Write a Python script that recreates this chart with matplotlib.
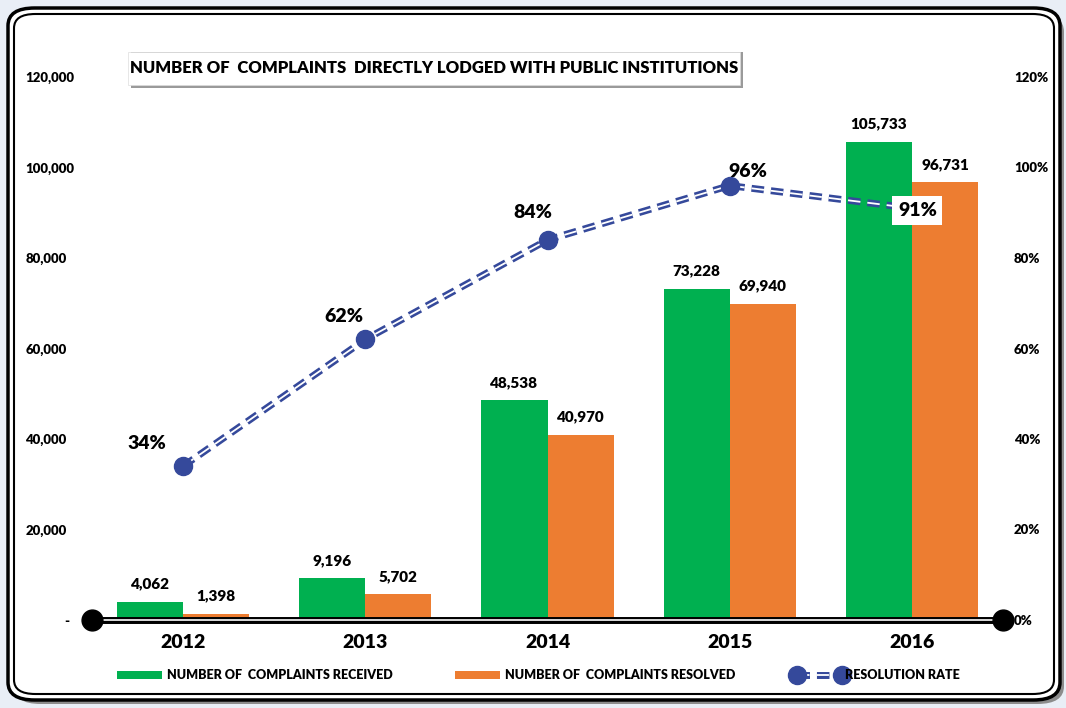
import numpy as np
import matplotlib
matplotlib.use("Agg")
import matplotlib.pyplot as plt
from matplotlib.patches import FancyBboxPatch, Rectangle
from matplotlib.lines import Line2D

plt.rcParams['font.family'] = ['Lato', 'DejaVu Sans']
plt.rcParams['lines.scale_dashes'] = False

years = ["2012", "2013", "2014", "2015", "2016"]
received = [4062, 9196, 48538, 73228, 105733]
resolved = [1398, 5702, 40970, 69940, 96731]
rate = [34, 62, 84, 96, 91]
left_ticks = [0, 20000, 40000, 60000, 80000, 100000, 120000]
left_labels = ["-", "20,000", "40,000", "60,000", "80,000", "100,000", "120,000"]
right_ticks = [0, 20, 40, 60, 80, 100, 120]

green = "#00B050"
orange = "#ED7D31"
blue = "#35499B"
WT = "heavy"

W, H = 1066, 708
fig = plt.figure(figsize=(W / 100, H / 100), dpi=100)
fig.patch.set_facecolor("#E9EEF6")


def fx(px):
    return px / W


def fy(py):
    return 1 - py / H


# rounded panel with double border + shadow
shadow = FancyBboxPatch((fx(14), fy(704)), fx(1050), fy(14) - fy(704),
                        boxstyle="round,pad=0,rounding_size=0.025", transform=fig.transFigure,
                        facecolor="#8C8C8C", edgecolor="none", zorder=0)
fig.patches.append(shadow)
outer = FancyBboxPatch((fx(8), fy(700)), fx(1052), fy(8) - fy(700),
                       boxstyle="round,pad=0,rounding_size=0.025", transform=fig.transFigure,
                       facecolor="white", edgecolor="black", linewidth=2.5, zorder=1)
fig.patches.append(outer)
inner = FancyBboxPatch((fx(14), fy(694)), fx(1040), fy(14) - fy(694),
                       boxstyle="round,pad=0,rounding_size=0.02", transform=fig.transFigure,
                       facecolor="white", edgecolor="black", linewidth=1.5, zorder=2)
fig.patches.append(inner)

ax = fig.add_axes([fx(92), 1 - 620 / H, fx(1003) - fx(92), (620 - 77) / H])
ax.set_zorder(3)
ax.patch.set_visible(False)
x = np.arange(len(years))
bw = 0.363
ax.bar(x - bw / 2, received, bw, color=green, zorder=2)
ax.bar(x + bw / 2, resolved, bw, color=orange, zorder=2)
for i in range(len(years)):
    ax.text(x[i] - bw / 2, received[i] + 2500, f"{received[i]:,}", ha="center", va="bottom",
            fontsize=11, fontweight=WT)
    ax.text(x[i] + bw / 2, resolved[i] + 2500, f"{resolved[i]:,}", ha="center", va="bottom",
            fontsize=11, fontweight=WT)

ax.set_xlim(-0.5, 4.5)
ax.set_ylim(0, 120000)
ax.set_yticks(left_ticks)
ax.set_yticklabels(left_labels, ha="left", fontsize=9.5, fontweight=WT)
ax.tick_params(axis="y", length=0, pad=48)
# accounting-style dash sits further right
ax.get_yticklabels()[0].set_ha("center")
ax.yaxis.get_major_ticks()[0].set_pad(18)
ax.set_xticks(x)
ax.set_xticklabels(years, fontsize=14, fontweight=WT)
ax.tick_params(axis="x", length=0, pad=10)
for s in ax.spines.values():
    s.set_visible(False)

# double x-axis line with dot ends
ax.axhline(0, color="black", linewidth=5, zorder=3, clip_on=False)
ax.axhline(0, color="white", linewidth=1.2, zorder=4, clip_on=False)
ax.plot([-0.5, 4.5], [0, 0], "o", color="black", markersize=15, zorder=5, clip_on=False)

ax2 = ax.twinx()
ax2.set_ylim(0, 120)
ax2.set_yticks(right_ticks)
ax2.set_yticklabels([f"{t}%" for t in right_ticks], fontsize=9.5, fontweight=WT)
ax2.tick_params(axis="y", length=0, pad=8)
for s in ax2.spines.values():
    s.set_visible(False)

dash = (0, (9, 5))
ax2.plot(x, rate, color=blue, linewidth=5, linestyle=dash, zorder=3)
ax2.plot(x, rate, color="white", linewidth=1.3, linestyle=dash, zorder=4)
ax2.plot(x, rate, "o", color=blue, markersize=13, zorder=5)

offsets = [(-0.2, 5), (-0.12, 5), (-0.08, 6), (0.1, 3.2), (0.03, -0.5)]
for i, r in enumerate(rate):
    dx, dy = offsets[i]
    kw = {}
    if i == 4:
        kw["bbox"] = dict(facecolor="white", edgecolor="none", pad=4)
    ax2.text(x[i] + dx, r + dy, f"{r}%", ha="center", va="center", fontsize=14,
             fontweight=WT, zorder=6, **kw)

# title box with shadow
fig.patches.append(Rectangle((fx(131), fy(88)), fx(612), fy(52) - fy(88),
                             transform=fig.transFigure, facecolor="#9A9A9A", edgecolor="none", zorder=2))
fig.patches.append(Rectangle((fx(128), fy(85)), fx(612), fy(52) - fy(85),
                             transform=fig.transFigure, facecolor="white", edgecolor="#DDDDDD",
                             linewidth=0.5, zorder=2))
fig.text(fx(434), fy(68), "NUMBER OF  COMPLAINTS  DIRECTLY LODGED WITH PUBLIC INSTITUTIONS",
         ha="center", va="center", fontsize=12, fontweight=WT, zorder=4)

# legend
ly = fy(675)
fig.patches.append(Rectangle((fx(117), ly - 0.005), fx(45), 0.01, transform=fig.transFigure,
                             facecolor=green, zorder=3))
fig.text(fx(167), ly, "NUMBER OF  COMPLAINTS RECEIVED", ha="left", va="center", fontsize=9,
         fontweight=WT, zorder=4)
fig.patches.append(Rectangle((fx(455), ly - 0.005), fx(45), 0.01, transform=fig.transFigure,
                             facecolor=orange, zorder=3))
fig.text(fx(505), ly, "NUMBER OF  COMPLAINTS RESOLVED", ha="left", va="center", fontsize=9,
         fontweight=WT, zorder=4)
fig.lines.append(Line2D([fx(797), fx(842)], [ly, ly], transform=fig.transFigure, color=blue,
                        linewidth=5, linestyle=dash, zorder=3))
fig.lines.append(Line2D([fx(797), fx(842)], [ly, ly], transform=fig.transFigure, color="white",
                        linewidth=1.3, linestyle=dash, zorder=4))
fig.lines.append(Line2D([fx(797), fx(842)], [ly, ly], transform=fig.transFigure, color=blue,
                        marker="o", markersize=13, linestyle="none", zorder=5))
fig.text(fx(845), ly, "RESOLUTION RATE", ha="left", va="center", fontsize=9,
         fontweight=WT, zorder=6)

fig.savefig("out.png", dpi=100)
